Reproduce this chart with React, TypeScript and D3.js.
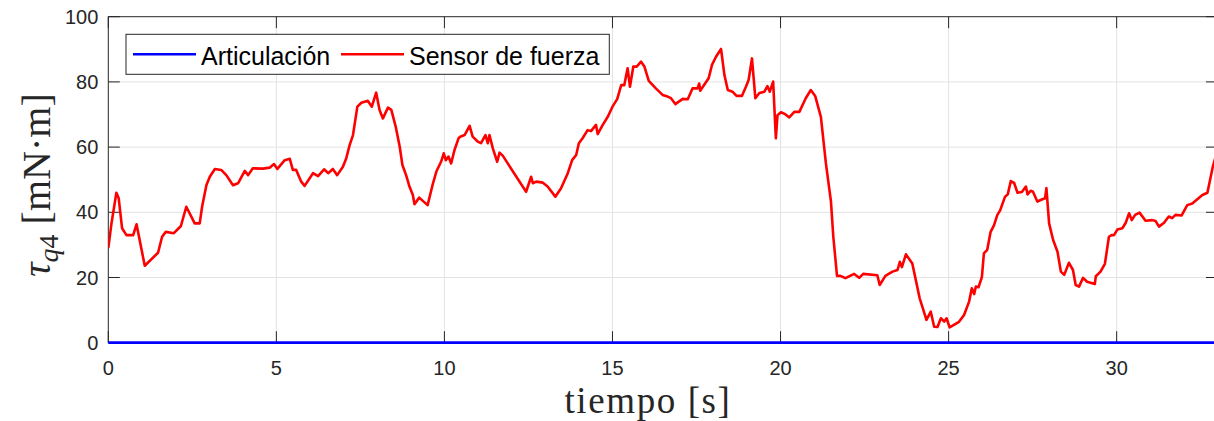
import * as d3 from "d3";

const WIDTH = 1214;
const HEIGHT = 421;
const MARGIN = { top: 16.7, right: -3.5, bottom: 78.3, left: 108.3 };

const X_TICKS = [0, 5, 10, 15, 20, 25, 30];
const Y_TICKS = [0, 20, 40, 60, 80, 100];

// tiempo [s] and fuerza
const tiempo = [
  0, 0.095, 0.24, 0.31, 0.41, 0.54, 0.74, 0.84, 1.085, 1.48, 1.6, 1.71, 1.95, 2.16, 2.32, 2.47, 2.57,
  2.72, 2.79, 2.92, 3.02, 3.17, 3.36, 3.51, 3.71, 3.86, 4.06, 4.16, 4.3, 4.6, 4.8, 4.93, 5.03, 5.25,
  5.4, 5.49, 5.59, 5.74, 5.84, 6.09, 6.24, 6.42, 6.54, 6.68, 6.81, 6.98, 7.08, 7.18, 7.28, 7.41, 7.53,
  7.72, 7.84, 7.97, 8.07, 8.17, 8.32, 8.42, 8.55, 8.67, 8.75, 8.86, 8.96, 9.06, 9.11, 9.25, 9.5, 9.66,
  9.76, 9.9, 9.98, 10.04, 10.12, 10.2, 10.3, 10.42, 10.47, 10.6, 10.75, 10.84, 10.99, 11.09, 11.22,
  11.29, 11.34, 11.44, 11.57, 11.64, 11.74, 12.43, 12.58, 12.63, 12.73, 12.93, 13.07, 13.3, 13.47,
  13.67, 13.8, 13.92, 14.0, 14.11, 14.26, 14.36, 14.51, 14.56, 14.71, 14.86, 15.0, 15.14, 15.26,
  15.35, 15.45, 15.52, 15.62, 15.72, 15.85, 15.95, 16.08, 16.29, 16.49, 16.64, 16.74, 16.87, 17.09,
  17.24, 17.38, 17.53, 17.58, 17.61, 17.86, 17.96, 18.08, 18.23, 18.33, 18.43, 18.57, 18.69, 18.85,
  18.97, 19.05, 19.15, 19.25, 19.37, 19.52, 19.61, 19.68, 19.78, 19.86, 19.91, 20.01, 20.14, 20.26,
  20.41, 20.56, 20.75, 20.9, 21.03, 21.2, 21.35, 21.5, 21.57, 21.68, 21.78, 21.93, 22.19, 22.34,
  22.46, 22.88, 22.95, 23.12, 23.33, 23.48, 23.55, 23.61, 23.73, 23.92, 24.14, 24.22, 24.34, 24.47,
  24.57, 24.67, 24.77, 24.87, 24.94, 25.03, 25.31, 25.46, 25.61, 25.69, 25.76, 25.81, 25.89, 25.99,
  26.05, 26.15, 26.25, 26.35, 26.45, 26.53, 26.68, 26.76, 26.85, 26.95, 27.05, 27.18, 27.3, 27.35,
  27.44, 27.51, 27.64, 27.79, 27.87, 27.91, 27.99, 28.11, 28.24, 28.34, 28.44, 28.58, 28.7, 28.78,
  28.88, 29.0, 29.12, 29.35, 29.38, 29.52, 29.65, 29.77, 29.85, 29.92, 30.02, 30.17, 30.27, 30.37,
  30.45, 30.55, 30.68, 30.86, 31.06, 31.16, 31.26, 31.41, 31.55, 31.65, 31.75, 31.93, 32.1, 32.25,
  32.4, 32.55, 32.7, 32.86, 33,
];

const sensorFuerza = [
  29.0, 36.6, 46.0, 44.3, 35.1, 33.0, 33.0, 36.3, 23.6, 27.6, 32.5, 34.0, 33.6, 35.8, 41.7, 38.7, 36.6,
  36.6, 41.7, 48.4, 50.9, 53.3, 53.0, 51.4, 48.3, 48.9, 52.7, 51.4, 53.5, 53.4, 53.7, 54.8, 53.3, 56.0,
  56.4, 53.0, 53.0, 49.4, 48.1, 52.0, 51.1, 53.2, 52.0, 53.3, 51.4, 54.0, 56.6, 60.6, 63.7, 72.4, 73.6,
  74.2, 72.4, 76.7, 71.4, 68.8, 72.1, 71.4, 66.3, 60.1, 54.5, 51.4, 47.9, 45.3, 42.5, 44.5, 42.2, 48.9,
  52.5, 55.5, 58.1, 56.0, 57.1, 55.0, 59.1, 62.7, 63.2, 63.7, 66.5, 63.2, 61.7, 61.2, 63.7,
  61.2, 63.7, 59.6, 55.5, 58.3, 57.3, 46.3, 50.9, 48.9, 49.4, 49.1, 47.9, 44.8, 47.4,
  52.0, 56.0, 57.6, 61.2, 62.7, 65.2, 64.9, 66.8, 64.0, 66.8, 69.3, 72.4, 74.7, 79.0,
  79.0, 84.2, 78.5, 84.7, 84.7, 86.2, 84.7, 80.3, 78.0, 76.0, 75.5, 75.0, 73.2, 74.8,
  74.7, 78.0, 78.0, 79.5, 77.3, 81.1, 85.2, 87.7, 90.1, 82.1, 77.5, 77.0, 75.7, 75.7,
  78.5, 80.6, 87.2, 75.0, 76.6, 77.0, 78.7, 77.0, 80.1, 62.7, 69.8, 70.7, 70.1, 69.1,
  70.8, 70.8, 75.0, 77.5, 75.7, 69.3, 55.0, 43.3, 32.5, 20.5, 20.5, 19.8, 21.1, 19.9,
  21.1, 20.7, 17.7, 20.5, 21.8, 22.3, 24.8, 23.2, 27.1, 24.3, 13.6, 11.0, 7.0, 9.5,
  4.9, 4.8, 7.5, 6.5, 7.5, 4.7, 6.4, 8.5, 12.6, 16.7, 14.9, 17.2, 17.0, 20.1,
  27.4, 28.5, 34.0, 36.0, 39.2, 40.5, 44.8, 45.5, 49.6, 49.0, 46.0, 46.2, 47.9, 45.5,
  46.6, 46.3, 43.3, 44.0, 44.3, 47.4, 36.6, 31.5, 27.9, 21.8, 20.8, 24.5, 22.3, 17.7,
  17.2, 19.9, 18.7, 18.0, 20.4, 21.8, 24.2, 32.5, 33.0, 33.0, 34.7, 35.1, 36.8, 39.7,
  37.6, 39.2, 39.9, 37.4, 37.6, 37.3, 35.6, 36.8, 38.7, 38.2, 39.2, 39.0, 42.2, 42.7,
  44.0, 45.3, 46.0, 54.0, 59.0,
];

const tiempoArticulacion = [0, 33];
const articulacion = [0, 0];

const AXIS_COLOR = "#262626";
const GRID_COLOR = "#e3e3e3";
const TICK_FONT = "Liberation Sans, Arial, sans-serif";
const LATEX_FONT = "Liberation Serif, Times New Roman, serif";

export default function App() {
  const left = MARGIN.left;
  const right = WIDTH - MARGIN.right;
  const top = MARGIN.top;
  const bottom = HEIGHT - MARGIN.bottom;

  const xScale = d3.scaleLinear().domain([0, 33]).range([left, right]);
  const yScale = d3.scaleLinear().domain([0, 100]).range([bottom, top]);

  const line = d3
    .line<[number, number]>()
    .x((d) => xScale(d[0]))
    .y((d) => yScale(d[1]));

  const sensorPath = line(tiempo.map((t, i) => [t, sensorFuerza[i]]));
  const articPath = line(tiempoArticulacion.map((t, i) => [t, articulacion[i]]));

  const tickLen = 11.5;

  // legend
  const leg = { x: 126, y: 34.3, w: 483.3, h: 40 };
  const legMid = leg.y + 20;

  return (
    <svg
      width={WIDTH}
      height={HEIGHT}
      style={{ position: "absolute", left: 0, top: 0, background: "white" }}
    >
      <defs>
        <clipPath id="plotArea">
          <rect x={left} y={top} width={right - left} height={bottom - top} />
        </clipPath>
      </defs>
      <rect width={WIDTH} height={HEIGHT} fill="white" />

      {/* grid */}
      {X_TICKS.filter((t) => t > 0).map((t) => (
        <line
          key={"gx" + t}
          x1={xScale(t)}
          x2={xScale(t)}
          y1={top}
          y2={bottom}
          stroke={GRID_COLOR}
          strokeWidth={1}
        />
      ))}
      {Y_TICKS.filter((t) => t > 0 && t < 100).map((t) => (
        <line
          key={"gy" + t}
          x1={left}
          x2={right}
          y1={yScale(t)}
          y2={yScale(t)}
          stroke={GRID_COLOR}
          strokeWidth={1}
        />
      ))}

      {/* box + ticks */}
      <rect
        x={left}
        y={top}
        width={right - left}
        height={bottom - top}
        fill="none"
        stroke={AXIS_COLOR}
        strokeWidth={1}
      />
      {X_TICKS.map((t) => (
        <g key={"tx" + t}>
          <line x1={xScale(t)} x2={xScale(t)} y1={bottom} y2={bottom - tickLen} stroke={AXIS_COLOR} />
          <line x1={xScale(t)} x2={xScale(t)} y1={top} y2={top + tickLen} stroke={AXIS_COLOR} />
          <text
            x={xScale(t)}
            y={bottom + 32}
            textAnchor="middle"
            fontFamily={TICK_FONT}
            fontSize={20}
            fill={AXIS_COLOR}
          >
            {t}
          </text>
        </g>
      ))}
      {Y_TICKS.map((t) => (
        <g key={"ty" + t}>
          <line x1={left} x2={left + tickLen} y1={yScale(t)} y2={yScale(t)} stroke={AXIS_COLOR} />
          <line x1={right} x2={right - tickLen} y1={yScale(t)} y2={yScale(t)} stroke={AXIS_COLOR} />
          <text
            x={left - 10}
            y={yScale(t)}
            textAnchor="end"
            dominantBaseline="central"
            fontFamily={TICK_FONT}
            fontSize={20}
            fill={AXIS_COLOR}
          >
            {t}
          </text>
        </g>
      ))}

      {/* series */}
      <g clipPath="url(#plotArea)">
        <path d={sensorPath ?? ""} fill="none" stroke="#ff0000" strokeWidth={2.6} strokeLinejoin="round" />
      </g>
      <path d={articPath ?? ""} fill="none" stroke="#0000ff" strokeWidth={2.8} />

      {/* legend */}
      <rect x={leg.x} y={leg.y} width={leg.w} height={leg.h} fill="white" stroke={AXIS_COLOR} strokeWidth={1} />
      <line x1={133} x2={196} y1={legMid} y2={legMid} stroke="#0000ff" strokeWidth={2.4} />
      <text x={201} y={65} fontFamily={TICK_FONT} fontSize={25} fill="#000">
        Articulación
      </text>
      <line x1={341} x2={404} y1={legMid} y2={legMid} stroke="#ff0000" strokeWidth={2.4} />
      <text x={409} y={65} fontFamily={TICK_FONT} fontSize={25} fill="#000">
        Sensor de fuerza
      </text>

      {/* axis labels */}
      <text
        x={648}
        y={412.5}
        textAnchor="middle"
        fontFamily={LATEX_FONT}
        fontSize={37}
        letterSpacing={1.6}
        fill={AXIS_COLOR}
      >
        tiempo [s]
      </text>
      <text
        transform={`translate(50, 185) rotate(-90)`}
        textAnchor="middle"
        fontFamily={LATEX_FONT}
        fontSize={40}
        fill={AXIS_COLOR}
      >
        <tspan fontStyle="italic">τ</tspan>
        <tspan fontStyle="italic" fontSize={28} dy={8}>
          q
        </tspan>
        <tspan fontSize={28}>4</tspan>
        <tspan dy={-8}> [mN·m]</tspan>
      </text>
    </svg>
  );
}
